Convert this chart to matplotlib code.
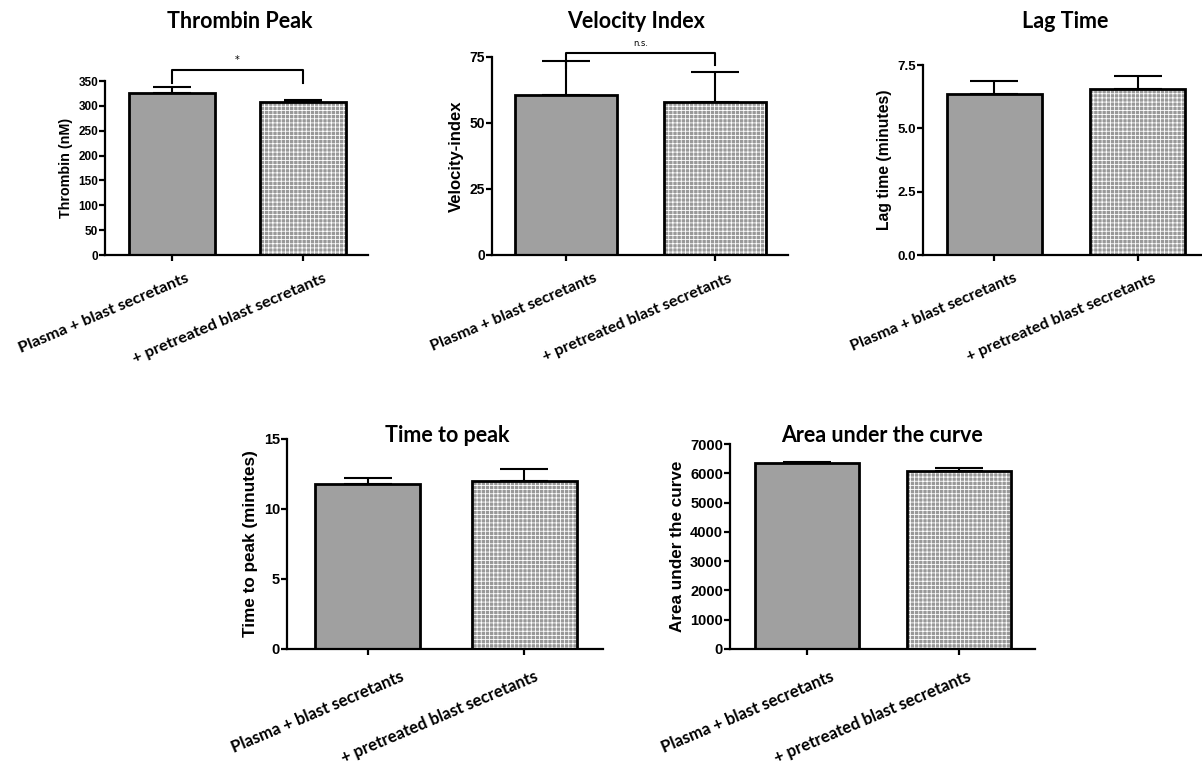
import matplotlib
matplotlib.use("Agg")
import matplotlib.pyplot as plt
import matplotlib.transforms as mtransforms

# ---------------------------------------------------------------------
# Data
# ---------------------------------------------------------------------
groups = ["Plasma + blast secretants", "+ pretreated blast secretants"]

thrombin_mean = [325, 308]
thrombin_err = [12, 4]

velocity_mean = [60.6, 58.0]
velocity_err = [12.9, 11.3]

lag_mean = [6.36, 6.55]
lag_err = [0.50, 0.50]

ttp_mean = [11.8, 12.0]
ttp_err = [0.45, 0.85]

auc_mean = [6340, 6090]
auc_err = [30, 100]

W, H = 1202, 767
plt.rcParams["hatch.linewidth"] = 0.6

TICK_FONT = "Liberation Sans"
TITLE_FONT = "Lato"


def px_axes(fig, left, right, bottom, top):
    return fig.add_axes([left / W, 1 - bottom / H, (right - left) / W, (bottom - top) / H])


def panel(fig, box, means, errs, ylim, yticks, ylabel, title, title_xy,
          xlim, width, yfs, ylfs, xfs, xoffs, yoff, capsize, ytick_fmt=None):
    ax = px_axes(fig, *box)
    x = [0, 1]
    ax.bar(x[0], means[0], width=width, color="#a0a0a0", edgecolor="black",
           linewidth=2, zorder=2)
    # textured second bar: gray base with white fine grid, then black outline
    ax.bar(x[1], means[1], width=width, color="#999999", edgecolor="white",
           hatch="++++", linewidth=0, zorder=2)
    ax.bar(x[1], means[1], width=width, fill=False, edgecolor="black",
           linewidth=2, zorder=3)
    ax.errorbar(x, means, yerr=[[0, 0], errs], fmt="none", ecolor="black",
                elinewidth=1.5, capsize=capsize, capthick=1.5, zorder=1)
    ax.set_xlim(*xlim)
    ax.set_ylim(*ylim)
    ax.set_yticks(yticks)
    if ytick_fmt:
        ax.set_yticklabels([ytick_fmt.format(v) for v in yticks])
    ax.set_xticks(x)
    ax.set_xticklabels([])
    # rotated category labels, placed by hand (the original was hand-composed)
    for xi, g, xo in zip(x, groups, xoffs):
        off = mtransforms.ScaledTranslation(xo / 100, -yoff / 100, fig.dpi_scale_trans)
        ax.text(xi, 0, g, transform=ax.get_xaxis_transform() + off,
                rotation=23, ha="right", va="top", rotation_mode="anchor",
                fontfamily=TITLE_FONT, fontweight="bold", fontsize=xfs)
    for lab in ax.get_yticklabels():
        lab.set_fontfamily(TICK_FONT)
        lab.set_fontweight("bold")
        lab.set_fontsize(yfs)
    ax.set_ylabel(ylabel, fontfamily=TICK_FONT, fontweight="bold", fontsize=ylfs)
    for s in ("top", "right"):
        ax.spines[s].set_visible(False)
    for s in ("left", "bottom"):
        ax.spines[s].set_linewidth(1.6)
    ax.tick_params(axis="both", width=1.6, length=4, pad=1)
    ax.patch.set_alpha(0)
    fig.text(title_xy[0] / W, 1 - title_xy[1] / H, title, ha="center", va="center",
             fontfamily=TITLE_FONT, fontweight="bold", fontsize=15.5)
    return ax


fig = plt.figure(figsize=(W / 100, H / 100), dpi=100)

ax1 = panel(fig, (105, 368, 255, 81), thrombin_mean, thrombin_err, (0, 350),
            range(0, 351, 50), "Thrombin (nM)", "Thrombin Peak", (240, 22),
            (-0.511, 1.496), 0.66, 8.5, 10.3, 11.8, (13, 20), 16, 14)
ax1.plot([0, 0, 1, 1], [346, 372, 372, 346], color="black", lw=1.5, clip_on=False)
ax1.text(0.5, 382, "*", ha="center", va="bottom", fontsize=7)

ax2 = panel(fig, (492, 788, 255, 57), velocity_mean, velocity_err, (0, 75),
            [0, 25, 50, 75], "Velocity-index", "Velocity Index", (636, 21),
            (-0.497, 1.49), 0.68, 10, 12, 11.5, (27, 13), 16, 17)
ax2.plot([0, 0, 1, 1], [71, 76.5, 76.5, 72], color="black", lw=1.5, clip_on=False)
ax2.text(0.5, 78.5, "n.s.", ha="center", va="bottom", fontsize=6)

ax3 = panel(fig, (923, 1202, 255, 65), lag_mean, lag_err, (0, 7.5),
            [0, 2.5, 5.0, 7.5], "Lag time (minutes)", "Lag Time", (1065, 21),
            (-0.497, 1.448), 0.66, 9.5, 11.3, 11.5, (19, 15), 16, 17, "{:.1f}")

ax4 = panel(fig, (287, 603, 649, 439), ttp_mean, ttp_err, (0, 15),
            [0, 5, 10, 15], "Time to peak (minutes)", "Time to peak", (447, 436),
            (-0.516, 1.503), 0.67, 10.5, 12.3, 12, (32, 10), 19, 17)

ax5 = panel(fig, (730, 1035, 649, 444), auc_mean, auc_err, (0, 7000),
            range(0, 7001, 1000), "Area under the curve", "Area under the curve",
            (882, 436), (-0.507, 1.5), 0.68, 10.5, 12.3, 12, (23, 8), 19, 17)

fig.savefig("out.png", dpi=100)
